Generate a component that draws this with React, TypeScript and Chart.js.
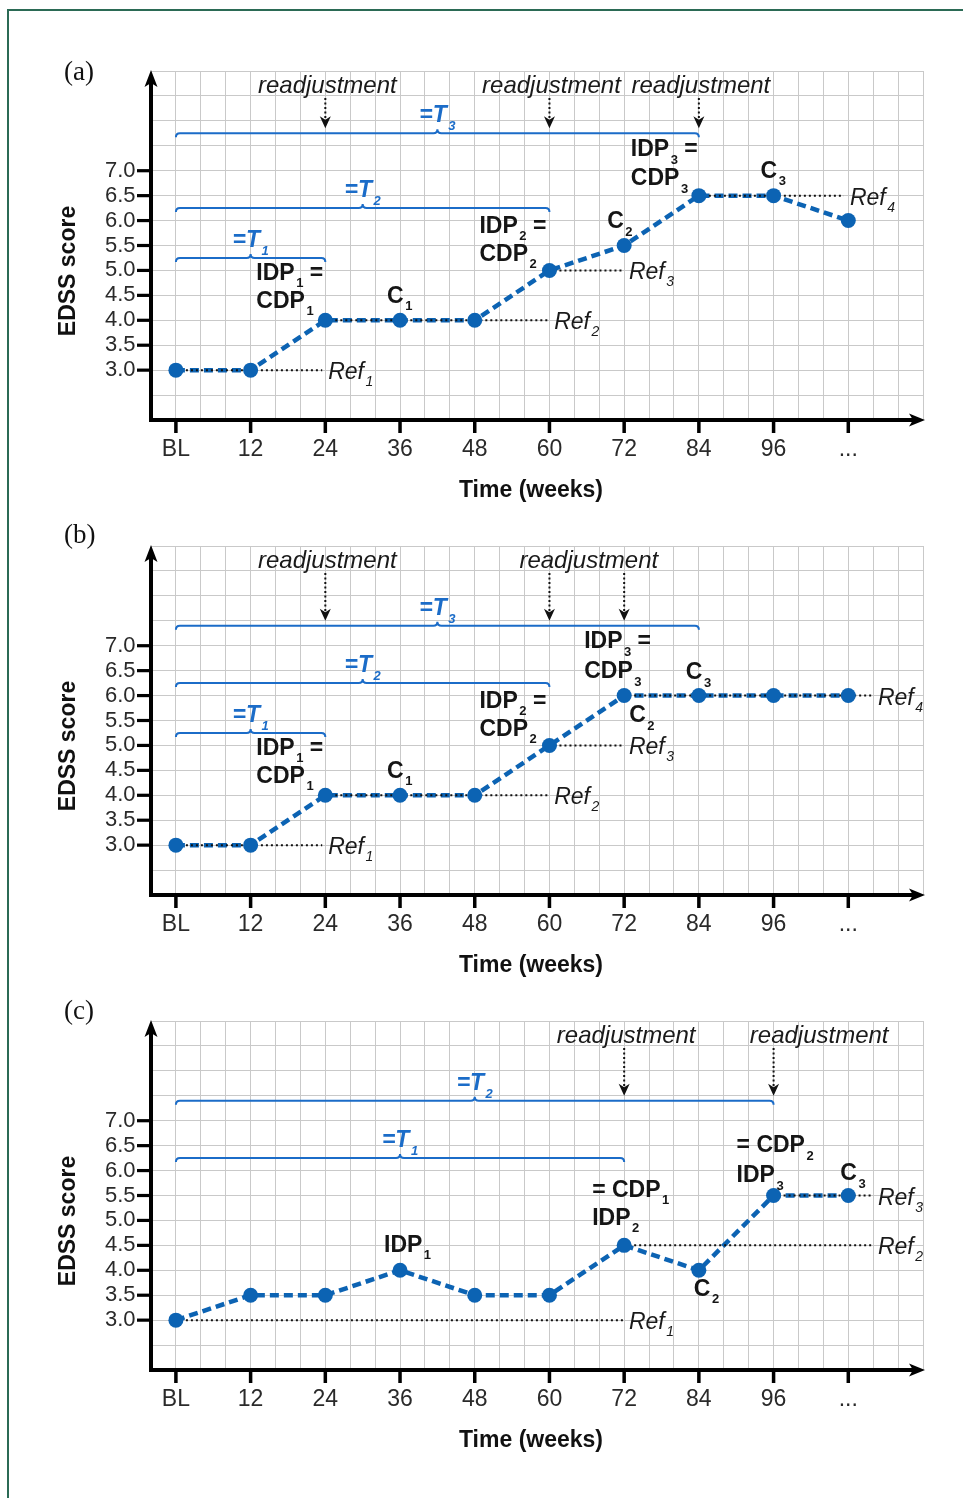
import React, { useEffect, useRef } from 'react';
import { Chart, registerables } from 'chart.js';

Chart.register(...registerables);

// ---------- data ----------
const WEEKS = [0, 12, 24, 36, 48, 60, 72, 84, 96, 108];
const EDSS_A = [3.0, 3.0, 4.0, 4.0, 4.0, 5.0, 5.5, 6.5, 6.5, 6.0];
const EDSS_B = [3.0, 3.0, 4.0, 4.0, 4.0, 5.0, 6.0, 6.0, 6.0, 6.0];
const EDSS_C = [3.0, 3.5, 3.5, 4.0, 3.5, 3.5, 4.5, 4.0, 5.5, 5.5];

const X_TICK_VALUES = [0, 12, 24, 36, 48, 60, 72, 84, 96, 108];
const X_TICK_LABELS = ['BL', '12', '24', '36', '48', '60', '72', '84', '96', '...'];
const Y_TICK_VALUES = [3.0, 3.5, 4.0, 4.5, 5.0, 5.5, 6.0, 6.5, 7.0];

// reference levels: [level, from week, to week, index]
const REFS_A: [number, number, number, string][] = [[3.0, 0, 23.5, '1'], [4.0, 24, 59.8, '2'], [5.0, 60, 71.8, '3'], [6.5, 84, 107.3, '4']];
const REFS_B: [number, number, number, string][] = [[3.0, 0, 23.5, '1'], [4.0, 24, 59.8, '2'], [5.0, 60, 71.8, '3'], [6.0, 72, 111.8, '4']];
const REFS_C: [number, number, number, string][] = [[3.0, 0, 71.8, '1'], [4.5, 72, 111.8, '2'], [5.5, 96, 111.8, '3']];

// confirmation periods T: [from week, to week, level, index]
const SPANS_A: [number, number, number, string][] = [[0, 24, 5.25, '1'], [0, 60, 6.25, '2'], [0, 84, 7.75, '3']];
const SPANS_B: [number, number, number, string][] = [[0, 24, 5.25, '1'], [0, 60, 6.25, '2'], [0, 84, 7.4, '3']];
const SPANS_C: [number, number, number, string][] = [[0, 72, 6.25, '1'], [0, 96, 7.4, '2']];

// readjustment arrows (weeks) and text centres (weeks)
const ARROWS_A = [24, 60, 84];
const ARROWS_B = [24, 60, 72];
const ARROWS_C = [72, 96];
const ARROW_LEVEL_A = 7.75;
const ARROW_LEVEL_B = 7.4;
const ARROW_LEVEL_C = 7.4;
const READJ_A = [24, 60, 84];
const READJ_B = [24, 66];
const READJ_C = [72, 103];

// ---------- styles ----------
const FAM = '"Liberation Sans", Arial, Helvetica, sans-serif';
const BLUE = '#0c63b3';
const BRACE_BLUE = '#1b6cc8';
const TXT = '#151515';

type Seg = [string, string?];
type Note = { at: [number, number]; dx: number; lines: [number, Seg[]][] };

const NOTES_A: Note[] = [
  { at: [24, 4.0], dx: -69, lines: [[-40.5, [['IDP', '1'], [' =']]], [-12.5, [['CDP', '1']]]] },
  { at: [36, 4.0], dx: -13, lines: [[-17.5, [['C', '1']]]] },
  { at: [60, 5.0], dx: -70, lines: [[-37.5, [['IDP', '2'], [' =']]], [-9.5, [['CDP', '2']]]] },
  { at: [72, 5.5], dx: -17, lines: [[-17.5, [['C', '2']]]] },
  { at: [84, 6.5], dx: -68, lines: [[-39.5, [['IDP', '3'], [' =']]], [-10.5, [['CDP', '3']]]] },
  { at: [96, 6.5], dx: -13, lines: [[-18, [['C', '3']]]] },
];
const NOTES_B: Note[] = [
  { at: [24, 4.0], dx: -69, lines: [[-40.5, [['IDP', '1'], [' =']]], [-12.5, [['CDP', '1']]]] },
  { at: [36, 4.0], dx: -13, lines: [[-17.5, [['C', '1']]]] },
  { at: [60, 5.0], dx: -70, lines: [[-37.5, [['IDP', '2'], [' =']]], [-9.5, [['CDP', '2']]]] },
  { at: [72, 6.0], dx: -40, lines: [[-47.5, [['IDP', '3'], [' =']]], [-17.5, [['CDP', '3']]]] },
  { at: [84, 6.0], dx: -13, lines: [[-16.5, [['C', '3']]]] },
  { at: [72, 6.0], dx: 5, lines: [[26.5, [['C', '2']]]] },
];
const NOTES_C: Note[] = [
  { at: [36, 4.0], dx: -16, lines: [[-18.5, [['IDP', '1']]]] },
  { at: [72, 4.5], dx: -32, lines: [[-48.5, [['= CDP', '1']]], [-20.5, [['IDP', '2']]]] },
  { at: [96, 5.5], dx: -37, lines: [[-43.5, [['= CDP', '2']]], [-13.5, [['IDP', '3']]]] },
  { at: [108, 5.5], dx: -8, lines: [[-15.5, [['C', '3']]]] },
  { at: [84, 4.0], dx: -5, lines: [[25.5, [['C', '2']]]] },
];

type PanelCfg = {
  letter: string; letterY: number; values: number[];
  refs: [number, number, number, string][]; spans: [number, number, number, string][];
  arrows: number[]; arrowLevel: number; readj: number[]; notes: Note[];
};

const PANELS: PanelCfg[] = [
  { letter: '(a)', letterY: 73, values: EDSS_A, refs: REFS_A, spans: SPANS_A, arrows: ARROWS_A, arrowLevel: ARROW_LEVEL_A, readj: READJ_A, notes: NOTES_A },
  { letter: '(b)', letterY: 61, values: EDSS_B, refs: REFS_B, spans: SPANS_B, arrows: ARROWS_B, arrowLevel: ARROW_LEVEL_B, readj: READJ_B, notes: NOTES_B },
  { letter: '(c)', letterY: 62, values: EDSS_C, refs: REFS_C, spans: SPANS_C, arrows: ARROWS_C, arrowLevel: ARROW_LEVEL_C, readj: READJ_C, notes: NOTES_C },
];

function rich(ctx: CanvasRenderingContext2D, x: number, y: number, segs: Seg[], font: string, subFont: string, subDy: number, align: 'left' | 'center') {
  ctx.textBaseline = 'alphabetic';
  ctx.textAlign = 'left';
  let total = 0;
  for (const [m, s] of segs) {
    ctx.font = font; total += ctx.measureText(m).width;
    if (s) { ctx.font = subFont; total += 1.5 + ctx.measureText(s).width; }
  }
  let cx = align === 'center' ? x - total / 2 : x;
  for (const [m, s] of segs) {
    ctx.font = font; ctx.fillText(m, cx, y); cx += ctx.measureText(m).width;
    if (s) { cx += 1.5; ctx.font = subFont; ctx.fillText(s, cx, y + subDy); cx += ctx.measureText(s).width; }
  }
}

function makeDecor(cfg: PanelCfg) {
  return {
    id: 'decor',
    afterDraw(chart: any) {
      const { ctx, chartArea, scales } = chart;
      const { left, right, top, bottom } = chartArea;
      const xs = scales.x, ys = scales.y;
      ctx.save();

      // confirmation brackets
      ctx.strokeStyle = BRACE_BLUE; ctx.lineWidth = 2; ctx.setLineDash([]);
      for (const [a, b, lv, n] of cfg.spans) {
        const x0 = xs.getPixelForValue(a), x1 = xs.getPixelForValue(b), yy = ys.getPixelForValue(lv);
        const xm = (x0 + x1) / 2, h = 4;
        ctx.beginPath();
        ctx.moveTo(x0, yy + h);
        ctx.quadraticCurveTo(x0, yy, x0 + h, yy);
        ctx.lineTo(xm - h, yy);
        ctx.quadraticCurveTo(xm, yy, xm, yy - h);
        ctx.quadraticCurveTo(xm, yy, xm + h, yy);
        ctx.lineTo(x1 - h, yy);
        ctx.quadraticCurveTo(x1, yy, x1, yy + h);
        ctx.stroke();
        ctx.fillStyle = BRACE_BLUE;
        rich(ctx, xm, yy - 11, [['=T', n]], `italic bold 23px ${FAM}`, `italic bold 13px ${FAM}`, 8, 'center');
      }

      // readjustment arrows
      const tipY = ys.getPixelForValue(cfg.arrowLevel) - 5;
      ctx.strokeStyle = '#111'; ctx.fillStyle = '#111';
      for (const w of cfg.arrows) {
        const ax = xs.getPixelForValue(w);
        ctx.lineWidth = 2; ctx.setLineDash([2, 2.5]);
        ctx.beginPath(); ctx.moveTo(ax, top + 27); ctx.lineTo(ax, tipY - 9); ctx.stroke();
        ctx.setLineDash([]);
        ctx.beginPath();
        ctx.moveTo(ax, tipY); ctx.lineTo(ax - 5.5, tipY - 12); ctx.lineTo(ax, tipY - 8.5); ctx.lineTo(ax + 5.5, tipY - 12);
        ctx.closePath(); ctx.fill();
      }
      ctx.font = `italic 24px ${FAM}`; ctx.textAlign = 'center'; ctx.textBaseline = 'alphabetic'; ctx.fillStyle = '#1a1a1a';
      for (const w of cfg.readj) ctx.fillText('readjustment', xs.getPixelForValue(w) + 2, top + 22);

      // reference labels
      ctx.fillStyle = '#1a1a1a';
      for (const [lv, , to, n] of cfg.refs) {
        rich(ctx, xs.getPixelForValue(to) + 6, ys.getPixelForValue(lv) + 9, [['Ref', n]], `italic 23px ${FAM}`, `italic 14px ${FAM}`, 7, 'left');
      }

      // point notes
      ctx.fillStyle = TXT;
      for (const note of cfg.notes) {
        const px = xs.getPixelForValue(note.at[0]), py = ys.getPixelForValue(note.at[1]);
        for (const [dy, segs] of note.lines) {
          rich(ctx, px + note.dx, py + dy, segs, `bold 23px ${FAM}`, `bold 13px ${FAM}`, 7.5, 'left');
        }
      }

      // axes with arrows
      ctx.fillStyle = '#000'; ctx.strokeStyle = '#000'; ctx.lineWidth = 4; ctx.setLineDash([]);
      ctx.beginPath(); ctx.moveTo(left, bottom + 2); ctx.lineTo(left, top + 12); ctx.stroke();
      ctx.beginPath(); ctx.moveTo(left - 2, bottom); ctx.lineTo(right - 10, bottom); ctx.stroke();
      ctx.beginPath();
      ctx.moveTo(left, top - 1); ctx.lineTo(left - 6.5, top + 16); ctx.lineTo(left, top + 12); ctx.lineTo(left + 6.5, top + 16);
      ctx.closePath(); ctx.fill();
      ctx.beginPath();
      ctx.moveTo(right + 2, bottom); ctx.lineTo(right - 14, bottom - 6.5); ctx.lineTo(right - 10, bottom); ctx.lineTo(right - 14, bottom + 6.5);
      ctx.closePath(); ctx.fill();
      for (const w of X_TICK_VALUES) {
        const tx = xs.getPixelForValue(w);
        ctx.fillRect(tx - 1.75, bottom, 3.5, 13);
      }
      for (const v of Y_TICK_VALUES) {
        const ty = ys.getPixelForValue(v);
        ctx.fillRect(left - 14, ty - 1.6, 14, 3.2);
      }

      // axis titles
      ctx.fillStyle = '#111';
      ctx.font = `bold 23px ${FAM}`; ctx.textAlign = 'center'; ctx.textBaseline = 'alphabetic';
      ctx.fillText('Time (weeks)', 531, bottom + 77);
      ctx.save();
      ctx.translate(69, top + 200); ctx.rotate(-Math.PI / 2);
      ctx.textBaseline = 'middle';
      ctx.fillText('EDSS score', 0, 0);
      ctx.restore();

      // panel letter
      ctx.font = `27px "Liberation Serif", "Times New Roman", serif`;
      ctx.textAlign = 'left'; ctx.textBaseline = 'middle'; ctx.fillStyle = '#111';
      ctx.fillText(cfg.letter, 64, cfg.letterY);
      ctx.restore();
    },
  };
}

function Panel({ cfg, top }: { cfg: PanelCfg; top: number }) {
  const ref = useRef<HTMLCanvasElement>(null);
  useEffect(() => {
    const pts = WEEKS.map((w, i) => ({ x: w, y: cfg.values[i] }));
    const refSets = cfg.refs.map(([lv, a, b]) => ({
      data: [{ x: a, y: lv }, { x: b, y: lv }],
      borderColor: '#111', borderWidth: 2, borderDash: [2, 3], pointRadius: 0, fill: false, order: 1,
    }));
    const chart = new Chart(ref.current as HTMLCanvasElement, {
      type: 'line',
      data: {
        datasets: [
          { data: pts, showLine: false, pointRadius: 7.5, pointBackgroundColor: BLUE, pointBorderWidth: 0, order: 0 } as any,
          ...refSets,
          { data: pts, borderColor: BLUE, borderWidth: 4.5, borderDash: [9, 5], pointRadius: 0, fill: false, tension: 0, order: 2 },
        ],
      },
      options: {
        responsive: false,
        animation: false,
        devicePixelRatio: 1,
        events: [],
        layout: { padding: { left: 0, top: 71, right: 40, bottom: 0 } },
        plugins: { legend: { display: false }, tooltip: { enabled: false } },
        scales: {
          x: {
            type: 'linear', min: -4, max: 120,
            border: { display: false },
            grid: { color: '#c9c9c9', lineWidth: 1, drawTicks: false },
            ticks: {
              stepSize: 4, autoSkip: false, maxRotation: 0, minRotation: 0, padding: 16,
              color: '#2a2a2a', font: { family: FAM, size: 23 },
              callback: (v: any) => {
                const i = X_TICK_VALUES.findIndex((t) => Math.abs(t - Number(v)) < 1e-6);
                return i >= 0 ? X_TICK_LABELS[i] : '';
              },
            },
            afterFit: (s: any) => { s.height = 100; },
          },
          y: {
            type: 'linear', min: 2, max: 9,
            border: { display: false },
            grid: { color: '#c9c9c9', lineWidth: 1, drawTicks: false },
            ticks: {
              stepSize: 0.5, autoSkip: false, padding: 15.5,
              color: '#2a2a2a', font: { family: FAM, size: 22 },
              callback: (v: any) => (Y_TICK_VALUES.some((t) => Math.abs(t - Number(v)) < 1e-6) ? Number(v).toFixed(1) : ''),
            },
            afterFit: (s: any) => { s.width = 151; },
          },
        },
      } as any,
      plugins: [makeDecor(cfg)],
    });
    return () => chart.destroy();
  }, [cfg]);
  return (
    <canvas
      ref={ref}
      width={963}
      height={520}
      style={{ position: 'absolute', left: 0, top, width: 963, height: 520 }}
    />
  );
}

export default function App() {
  return (
    <div style={{ position: 'absolute', left: 0, top: 0, width: 963, height: 1498, overflow: 'hidden', background: '#fff' }}>
      {PANELS.map((p, i) => (
        <Panel key={i} cfg={p} top={i * 475} />
      ))}
      <div
        style={{
          position: 'absolute', left: 7, top: 9, width: 960, height: 1495,
          borderLeft: '2px solid #2b6a55', borderTop: '2px solid #2b6a55',
        }}
      />
    </div>
  );
}
